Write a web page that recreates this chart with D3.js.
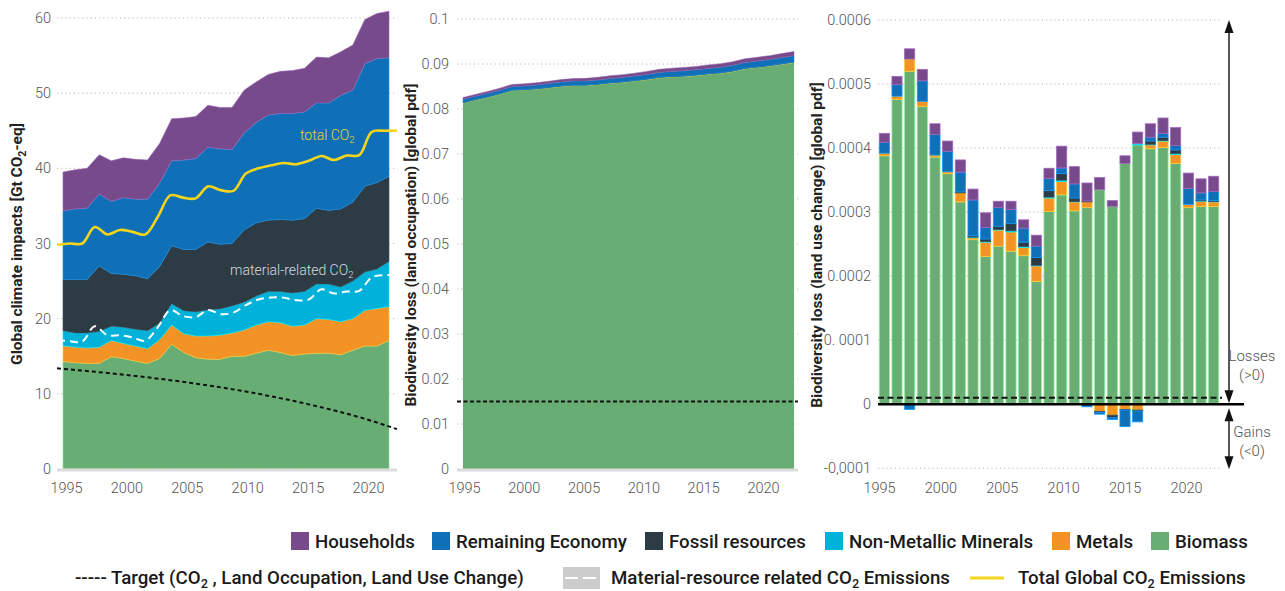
<!DOCTYPE html>
<html><head><meta charset="utf-8">
<script src="https://cdn.jsdelivr.net/npm/d3@7"></script>
<style>body{margin:0;background:#fff;}svg{display:block}</style>
</head><body><svg id="c" width="1285" height="591"></svg>
<script>
// ---------------- DATA ----------------
const seriesKeys = ['Biomass','Metals','NMM','Fossil','Remaining','Households'];
const legendNames = ['Households','Remaining Economy','Fossil resources','Non-Metallic Minerals','Metals','Biomass'];
const legendKeys = ['Households','Remaining','Fossil','NMM','Metals','Biomass'];

// Panel 1: global climate impacts [Gt CO2-eq]
const climYears = [1995,1996,1997,1998,1999,2000,2001,2002,2003,2004,2005,2006,2007,2008,2009,2010,2011,2012,2013,2014,2015,2016,2017,2018,2019,2020,2021,2022];
const climBiomass = [14.3,14.15,14.05,14.05,14.95,14.7,14.35,14.05,14.7,16.6,15.5,14.8,14.6,14.6,15.0,15.0,15.4,15.8,15.5,15.1,15.3,15.4,15.4,15.2,15.8,16.35,16.35,17.1];
const climMetals = [2.1,2.05,2.05,2.15,2.15,2.0,2.0,1.95,2.5,2.55,2.5,2.9,3.1,3.2,3.1,3.5,3.75,3.8,3.95,3.9,3.85,4.6,4.5,4.4,4.2,4.75,5.0,4.5];
const climNMM = [2.0,1.9,2.0,2.1,1.9,2.15,2.25,2.4,2.2,2.85,3.05,3.2,3.5,3.5,3.6,3.7,3.85,4.0,4.15,4.4,4.45,4.6,4.7,4.6,5.0,5.1,5.25,6.0];
const climFossil = [6.8,7.1,7.1,8.7,7.0,7.05,7.1,6.9,7.5,7.7,8.15,8.3,9.0,8.6,8.3,9.6,9.75,9.5,9.6,9.7,9.7,10.1,9.8,10.4,10.5,11.4,11.5,11.3];
const climRemaining = [9.15,9.4,9.5,9.6,9.6,10.2,10.2,10.6,11.1,11.3,11.9,12.1,12.6,12.7,12.5,12.9,13.35,14.0,14.1,14.2,14.2,14.0,14.3,15.1,14.9,16.3,16.5,15.8];
const climHouseholds = [5.15,5.2,5.3,5.2,5.4,5.3,5.3,5.2,5.3,5.6,5.6,5.6,5.6,5.5,5.6,5.7,5.4,5.4,5.6,5.7,5.8,6.1,6.0,5.8,6.0,5.9,6.0,6.2];
const totalCO2 = [29.8,30.0,30.0,32.2,31.2,31.8,31.55,31.2,33.55,36.4,36.1,36.0,37.6,37.1,37.0,39.3,40.0,40.4,40.7,40.55,41.0,41.65,41.1,41.7,41.75,44.85,45.0,45.0];
const materialCO2 = [17.15,17.0,16.95,19.0,17.8,17.8,17.5,17.05,18.85,21.15,20.35,20.2,21.15,20.6,20.8,21.8,22.55,22.8,22.8,22.45,22.55,23.9,23.35,23.6,23.7,25.5,25.8,25.7];
const targetYears = [1995,2000,2005,2010,2015,2020,2022];
const targetCO2 = [13.4,12.6,11.6,10.3,8.6,6.4,5.3];
const climTicks = [0,10,20,30,40,50,60];
const climTickLabels = ['0','10','20','30','40','50','60'];

// Panel 2: biodiversity loss (land occupation) [global pdf]
const occBiomass = [0.0813,0.0820,0.0826,0.0833,0.0841,0.0842,0.0844,0.0847,0.0850,0.0852,0.0852,0.0854,0.0857,0.0859,0.0862,0.0865,0.0869,0.0871,0.0872,0.0874,0.0877,0.0879,0.0883,0.0889,0.0892,0.0895,0.0899,0.0903];
const occMetals = [0.00008,0.00008,0.00008,0.00008,0.00008,0.00008,0.00008,0.00008,0.00009,0.00009,0.00009,0.00009,0.00009,0.00009,0.00009,0.0001,0.0001,0.0001,0.0001,0.0001,0.0001,0.0001,0.0001,0.0001,0.0001,0.0001,0.0001,0.0001];
const occNMM = [0.00003,0.00003,0.00003,0.00003,0.00003,0.00003,0.00003,0.00003,0.00003,0.00003,0.00003,0.00003,0.00003,0.00003,0.00003,0.00004,0.00004,0.00004,0.00004,0.00004,0.00004,0.00004,0.00004,0.00004,0.00004,0.00004,0.00004,0.00004];
const occFossil = [0.00003,0.00003,0.00003,0.00003,0.00003,0.00003,0.00003,0.00003,0.00003,0.00003,0.00003,0.00003,0.00003,0.00003,0.00003,0.00004,0.00004,0.00004,0.00004,0.00004,0.00004,0.00004,0.00004,0.00004,0.00004,0.00004,0.00004,0.00004];
const occRemaining = [0.0007,0.0007,0.00072,0.00074,0.00076,0.00078,0.0008,0.00082,0.00084,0.00086,0.00088,0.0009,0.00092,0.00094,0.00096,0.001,0.00104,0.00108,0.0011,0.00112,0.00114,0.00118,0.00122,0.00124,0.00126,0.0013,0.00134,0.00138];
const occHouseholds = [0.0004,0.0004,0.00042,0.00044,0.00046,0.00048,0.0005,0.00052,0.00054,0.00056,0.00058,0.0006,0.00062,0.00064,0.00066,0.00068,0.0007,0.00072,0.00074,0.00076,0.00078,0.0008,0.00082,0.00084,0.00086,0.00088,0.0009,0.00092];
const occTarget = 0.015;
const occTicks = [0,0.01,0.02,0.03,0.04,0.05,0.06,0.07,0.08,0.09,0.1];
const occTickLabels = ['0','0.01','0.02','0.03','0.04','0.05','0.06','0.07','0.08','0.09','0.1'];

// Panel 3: biodiversity loss (land use change) [global pdf], units 1e-6
const lucYears = [1995,1996,1997,1998,1999,2000,2001,2002,2003,2004,2005,2006,2007,2008,2009,2010,2011,2012,2013,2014,2015,2016,2017,2018,2019,2020,2021];
const lucBiomass = [388,476,520,465,386,360,316,257,231,247,239,232,192,301,327,302,307,335,309,376,405,399,401,376,307,309,309];
const lucMetals = [4,5,19,8,3,3,14,3,22,25,30,13,24,21,21,14,9,-11,-17,-8,-9,6,10,14,5,8,7];
const lucNMM = [0,0,0,0,0,0,0,1,1,1,2,1.5,1,1.5,2,0.5,0,0,0,0,2,1,1,1.5,0,0.5,0.5];
const lucFossil = [0,0,0,0,0,0,1.5,2,4,5,11,6.5,12,10,10,5.5,1.5,-1.5,-4,-1,-1.5,5,5,5.5,0,1.5,1.5];
const lucRemaining = [17,18,-8,32,32,32,31,56,18,29,22,22,18,19,9,22,-4,-3,-3,-26,-17,6,6,7,25,11,14];
const lucHouseholds = [14,13,16,18,17,16,19,17,23,10,13,13,17,16,34,27,28,19,9,12,18,21,24,28,24,22,24];
const lucTarget = 10;
const lucTicks = [-100,0,100,200,300,400,500,600];
const lucTickLabels = ['-0,0001','0','0. 0001','0.0002','0.0003','0.0004','0.0005','0.0006'];

const xTickYears = [1995,2000,2005,2010,2015,2020];

// ---------------- STYLE ----------------
const colors = {Biomass:'#68ad73', Metals:'#f39325', NMM:'#00b1da', Fossil:'#2c3b44', Remaining:'#0f70b7', Households:'#774b8b'};
const FONT = 'Roboto, "Noto Sans", sans-serif';
const svg = d3.select('#c').style('font-family', FONT);

function grid(g, y, ticks, x0, x1, skipZero) {
  g.append('g').selectAll('line').data(ticks.filter(t => !(skipZero && t === 0)))
    .join('line').attr('x1', x0).attr('x2', x1)
    .attr('y1', d => y(d)).attr('y2', d => y(d))
    .attr('stroke', '#b8b8b8').attr('stroke-width', 1).attr('stroke-dasharray', '1.2,3');
}
function yAxis(g, y, ticks, labels, x, pad) {
  const ax = g.append('g').attr('transform', `translate(${x},0)`)
    .call(d3.axisLeft(y).tickValues(ticks).tickFormat((d, i) => labels[i]).tickSize(0).tickPadding(pad));
  ax.select('.domain').remove();
  ax.selectAll('text').attr('font-size', 14.5).attr('font-weight', 300).attr('fill', '#555').attr('font-family', FONT);
}
function xAxis(g, x, y0) {
  const ax = g.append('g').attr('transform', `translate(0,${y0})`)
    .call(d3.axisBottom(x).tickValues(xTickYears).tickFormat(d3.format('d')).tickSize(0).tickPadding(14));
  ax.select('.domain').remove();
  ax.selectAll('text').attr('font-size', 14.5).attr('font-weight', 300).attr('fill', '#555').attr('font-family', FONT);
}
function richText(sel, parts) {
  parts.forEach(p => {
    if (p.sub) sel.append('tspan').attr('font-size', '0.68em').attr('dy', '0.35em').text(p.t);
    else sel.append('tspan').attr('dy', p.after ? '-0.24em' : null).text(p.t);
  });
  return sel;
}
function yLabel(x, yc, parts) {
  const t = svg.append('text').attr('transform', `translate(${x},${yc}) rotate(-90)`)
    .attr('text-anchor', 'middle').attr('font-size', 15.5).attr('font-weight', 700).attr('fill', '#222');
  richText(t, parts);
}

// ---------------- PANEL 1 ----------------
{
  const g = svg.append('g');
  const rows = climYears.map((yr, i) => ({year: yr, Biomass: climBiomass[i], Metals: climMetals[i], NMM: climNMM[i], Fossil: climFossil[i], Remaining: climRemaining[i], Households: climHouseholds[i]}));
  const xA = d3.scaleLinear().domain([1995, 2022]).range([63, 389]);
  const xL = d3.scaleLinear().domain([1995, 2022]).range([57, 397]);
  const xT = d3.scaleLinear().domain([1995, 2020]).range([66, 368]);
  const y = d3.scaleLinear().domain([0, 60]).range([469, 18]);
  grid(g, y, climTicks, 57, 397, true);
  const stacked = d3.stack().keys(seriesKeys)(rows);
  const area = d3.area().x(d => xA(d.data.year)).y0(d => y(d[0])).y1(d => y(d[1]));
  g.append('g').selectAll('path').data(stacked).join('path')
    .attr('d', area).attr('fill', d => colors[d.key])
    .attr('stroke', d => d3.color(colors[d.key]).brighter(0.8)).attr('stroke-width', 0.6);
  g.append('line').attr('x1', 57).attr('x2', 397).attr('y1', y(0) + 1).attr('y2', y(0) + 1)
    .attr('stroke', '#dcdcdc').attr('stroke-width', 3);
  const line = d3.line().curve(d3.curveCatmullRom.alpha(0.5));
  g.append('path').attr('d', line(climYears.map((yr, i) => [xL(yr), y(materialCO2[i])])))
    .attr('fill', 'none').attr('stroke', '#fff').attr('stroke-width', 2).attr('stroke-dasharray', '8,5');
  g.append('path').attr('d', line(climYears.map((yr, i) => [xL(yr), y(totalCO2[i])])))
    .attr('fill', 'none').attr('stroke', '#f7d51a').attr('stroke-width', 2.6);
  g.append('path').attr('d', d3.line().curve(d3.curveMonotoneX)(targetYears.map((yr, i) => [xL(yr), y(targetCO2[i])])))
    .attr('fill', 'none').attr('stroke', '#111').attr('stroke-width', 2).attr('stroke-dasharray', '4,3');
  richText(g.append('text').attr('x', 300).attr('y', 140).attr('font-size', 14).attr('font-weight', 300).attr('fill', '#efd22a'),
    [{t: 'total CO'}, {t: '2', sub: true}]);
  richText(g.append('text').attr('x', 230).attr('y', 275).attr('font-size', 14).attr('font-weight', 300).attr('fill', '#d8dde0'),
    [{t: 'material-related CO'}, {t: '2', sub: true}]);
  yAxis(g, y, climTicks, climTickLabels, 57, 6);
  xAxis(g, xT, 469);
}
yLabel(22, 244, [{t: 'Global climate impacts [Gt CO'}, {t: '2', sub: true}, {t: '-eq]', after: true}]);

// ---------------- PANEL 2 ----------------
{
  const g = svg.append('g');
  const rows = climYears.map((yr, i) => ({year: yr, Biomass: occBiomass[i], Metals: occMetals[i], NMM: occNMM[i], Fossil: occFossil[i], Remaining: occRemaining[i], Households: occHouseholds[i]}));
  const xA = d3.scaleLinear().domain([1995, 2022]).range([463, 794]);
  const xT = d3.scaleLinear().domain([1995, 2020]).range([464, 763]);
  const y = d3.scaleLinear().domain([0, 0.1]).range([469, 19]);
  grid(g, y, occTicks, 457, 798, true);
  const stacked = d3.stack().keys(seriesKeys)(rows);
  const area = d3.area().x(d => xA(d.data.year)).y0(d => y(d[0])).y1(d => y(d[1]));
  g.append('g').selectAll('path').data(stacked).join('path')
    .attr('d', area).attr('fill', d => colors[d.key])
    .attr('stroke', d => d.key === 'Biomass' ? 'none' : d3.color(colors[d.key]).brighter(0.6)).attr('stroke-width', 0.5);
  g.append('line').attr('x1', 457).attr('x2', 798).attr('y1', y(0) + 1).attr('y2', y(0) + 1)
    .attr('stroke', '#dcdcdc').attr('stroke-width', 3);
  g.append('line').attr('x1', 457).attr('x2', 798).attr('y1', y(occTarget)).attr('y2', y(occTarget))
    .attr('stroke', '#111').attr('stroke-width', 2).attr('stroke-dasharray', '4,2.5');
  yAxis(g, y, occTicks, occTickLabels, 457, 8);
  xAxis(g, xT, 469);
}
yLabel(416, 245, [{t: 'Biodiversity loss (land occupation) [global pdf]'}]);

// ---------------- PANEL 3 ----------------
{
  const g = svg.append('g');
  const rows = lucYears.map((yr, i) => ({year: yr, Biomass: lucBiomass[i], Metals: lucMetals[i], NMM: lucNMM[i], Fossil: lucFossil[i], Remaining: lucRemaining[i], Households: lucHouseholds[i]}));
  const xB = d3.scaleBand().domain(lucYears).range([878, 1220]).paddingInner(0.2).paddingOuter(0.1);
  const xT = d3.scaleLinear().domain([1995, 2020]).range([879, 1186]);
  const y = d3.scaleLinear().domain([-100, 600]).range([468.3, 20]);
  grid(g, y, lucTicks, 878, 1222, true);
  const stacked = d3.stack().keys(seriesKeys).offset(d3.stackOffsetDiverging)(rows);
  g.append('g').selectAll('g').data(stacked).join('g')
    .attr('fill', d => colors[d.key]).attr('stroke', d => d3.color(colors[d.key]).brighter(0.9))
    .selectAll('rect').data(d => d.filter(s => s[1] !== s[0])).join('rect')
    .attr('x', d => xB(d.data.year)).attr('width', xB.bandwidth())
    .attr('y', d => y(Math.max(d[0], d[1]))).attr('height', d => Math.abs(y(d[0]) - y(d[1])))
    .attr('stroke-width', 0.8);
  g.append('line').attr('x1', 878).attr('x2', 1222).attr('y1', y(lucTarget)).attr('y2', y(lucTarget))
    .attr('stroke', '#111').attr('stroke-width', 2).attr('stroke-dasharray', '6,3.5');
  g.append('line').attr('x1', 878).attr('x2', 1244).attr('y1', y(0)).attr('y2', y(0))
    .attr('stroke', '#000').attr('stroke-width', 2.6);
  // arrows
  const ax = 1229;
  const arrowLine = (y1, y2) => g.append('line').attr('x1', ax).attr('x2', ax).attr('y1', y1).attr('y2', y2).attr('stroke', '#111').attr('stroke-width', 1.4);
  const head = (tip, dir) => g.append('path').attr('d', `M${ax},${tip}L${ax - 4.5},${tip + dir * 13}L${ax + 4.5},${tip + dir * 13}Z`).attr('fill', '#111');
  arrowLine(y(600) + 8, y(0) - 8); head(y(600), 1); head(y(0) - 1, -1);
  arrowLine(y(0) + 10, y(-100) - 8); head(y(0) + 4, 1); head(y(-100) + 1, -1);
  const lab = (t, yy) => g.append('text').attr('x', 1252).attr('y', yy).attr('text-anchor', 'middle')
    .attr('font-size', 15).attr('font-weight', 300).attr('fill', '#555').text(t);
  lab('Losses', 361); lab('(>0)', 380); lab('Gains', 437); lab('(<0)', 456);
  yAxis(g, y, lucTicks, lucTickLabels, 878, 7);
  xAxis(g, xT, 469);
}
yLabel(822, 245, [{t: 'Biodiversity loss (land use change) [global pdf]'}]);

// ---------------- LEGEND ----------------
{
  const g = svg.append('g').attr('font-size', 18.7).attr('font-weight', 500).attr('fill', '#1a1a1a');
  const sqX = [291, 432, 645, 825, 1052, 1151];
  legendKeys.forEach((k, i) => {
    g.append('rect').attr('x', sqX[i]).attr('y', 532).attr('width', 18).attr('height', 18).attr('fill', colors[k]);
    g.append('text').attr('x', sqX[i] + 24).attr('y', 548).text(legendNames[i]);
  });
  const row2 = svg.append('g').attr('font-size', 18.7).attr('font-weight', 500).attr('fill', '#1a1a1a');
  richText(row2.append('text').attr('x', 75).attr('y', 584),
    [{t: '----- Target (CO'}, {t: '2', sub: true}, {t: ' , Land Occupation, Land Use Change)', after: true}]);
  row2.append('rect').attr('x', 563).attr('y', 567).attr('width', 37).attr('height', 22).attr('fill', '#cccccc');
  row2.append('line').attr('x1', 565).attr('x2', 598).attr('y1', 578).attr('y2', 578)
    .attr('stroke', '#fff').attr('stroke-width', 2).attr('stroke-dasharray', '13,5');
  richText(row2.append('text').attr('x', 611).attr('y', 584),
    [{t: 'Material-resource related CO'}, {t: '2', sub: true}, {t: ' Emissions', after: true}]);
  row2.append('line').attr('x1', 970).attr('x2', 1004).attr('y1', 578).attr('y2', 578)
    .attr('stroke', '#f7d51a').attr('stroke-width', 3);
  richText(row2.append('text').attr('x', 1018).attr('y', 584),
    [{t: 'Total Global CO'}, {t: '2', sub: true}, {t: ' Emissions', after: true}]);
}
</script></body></html>
